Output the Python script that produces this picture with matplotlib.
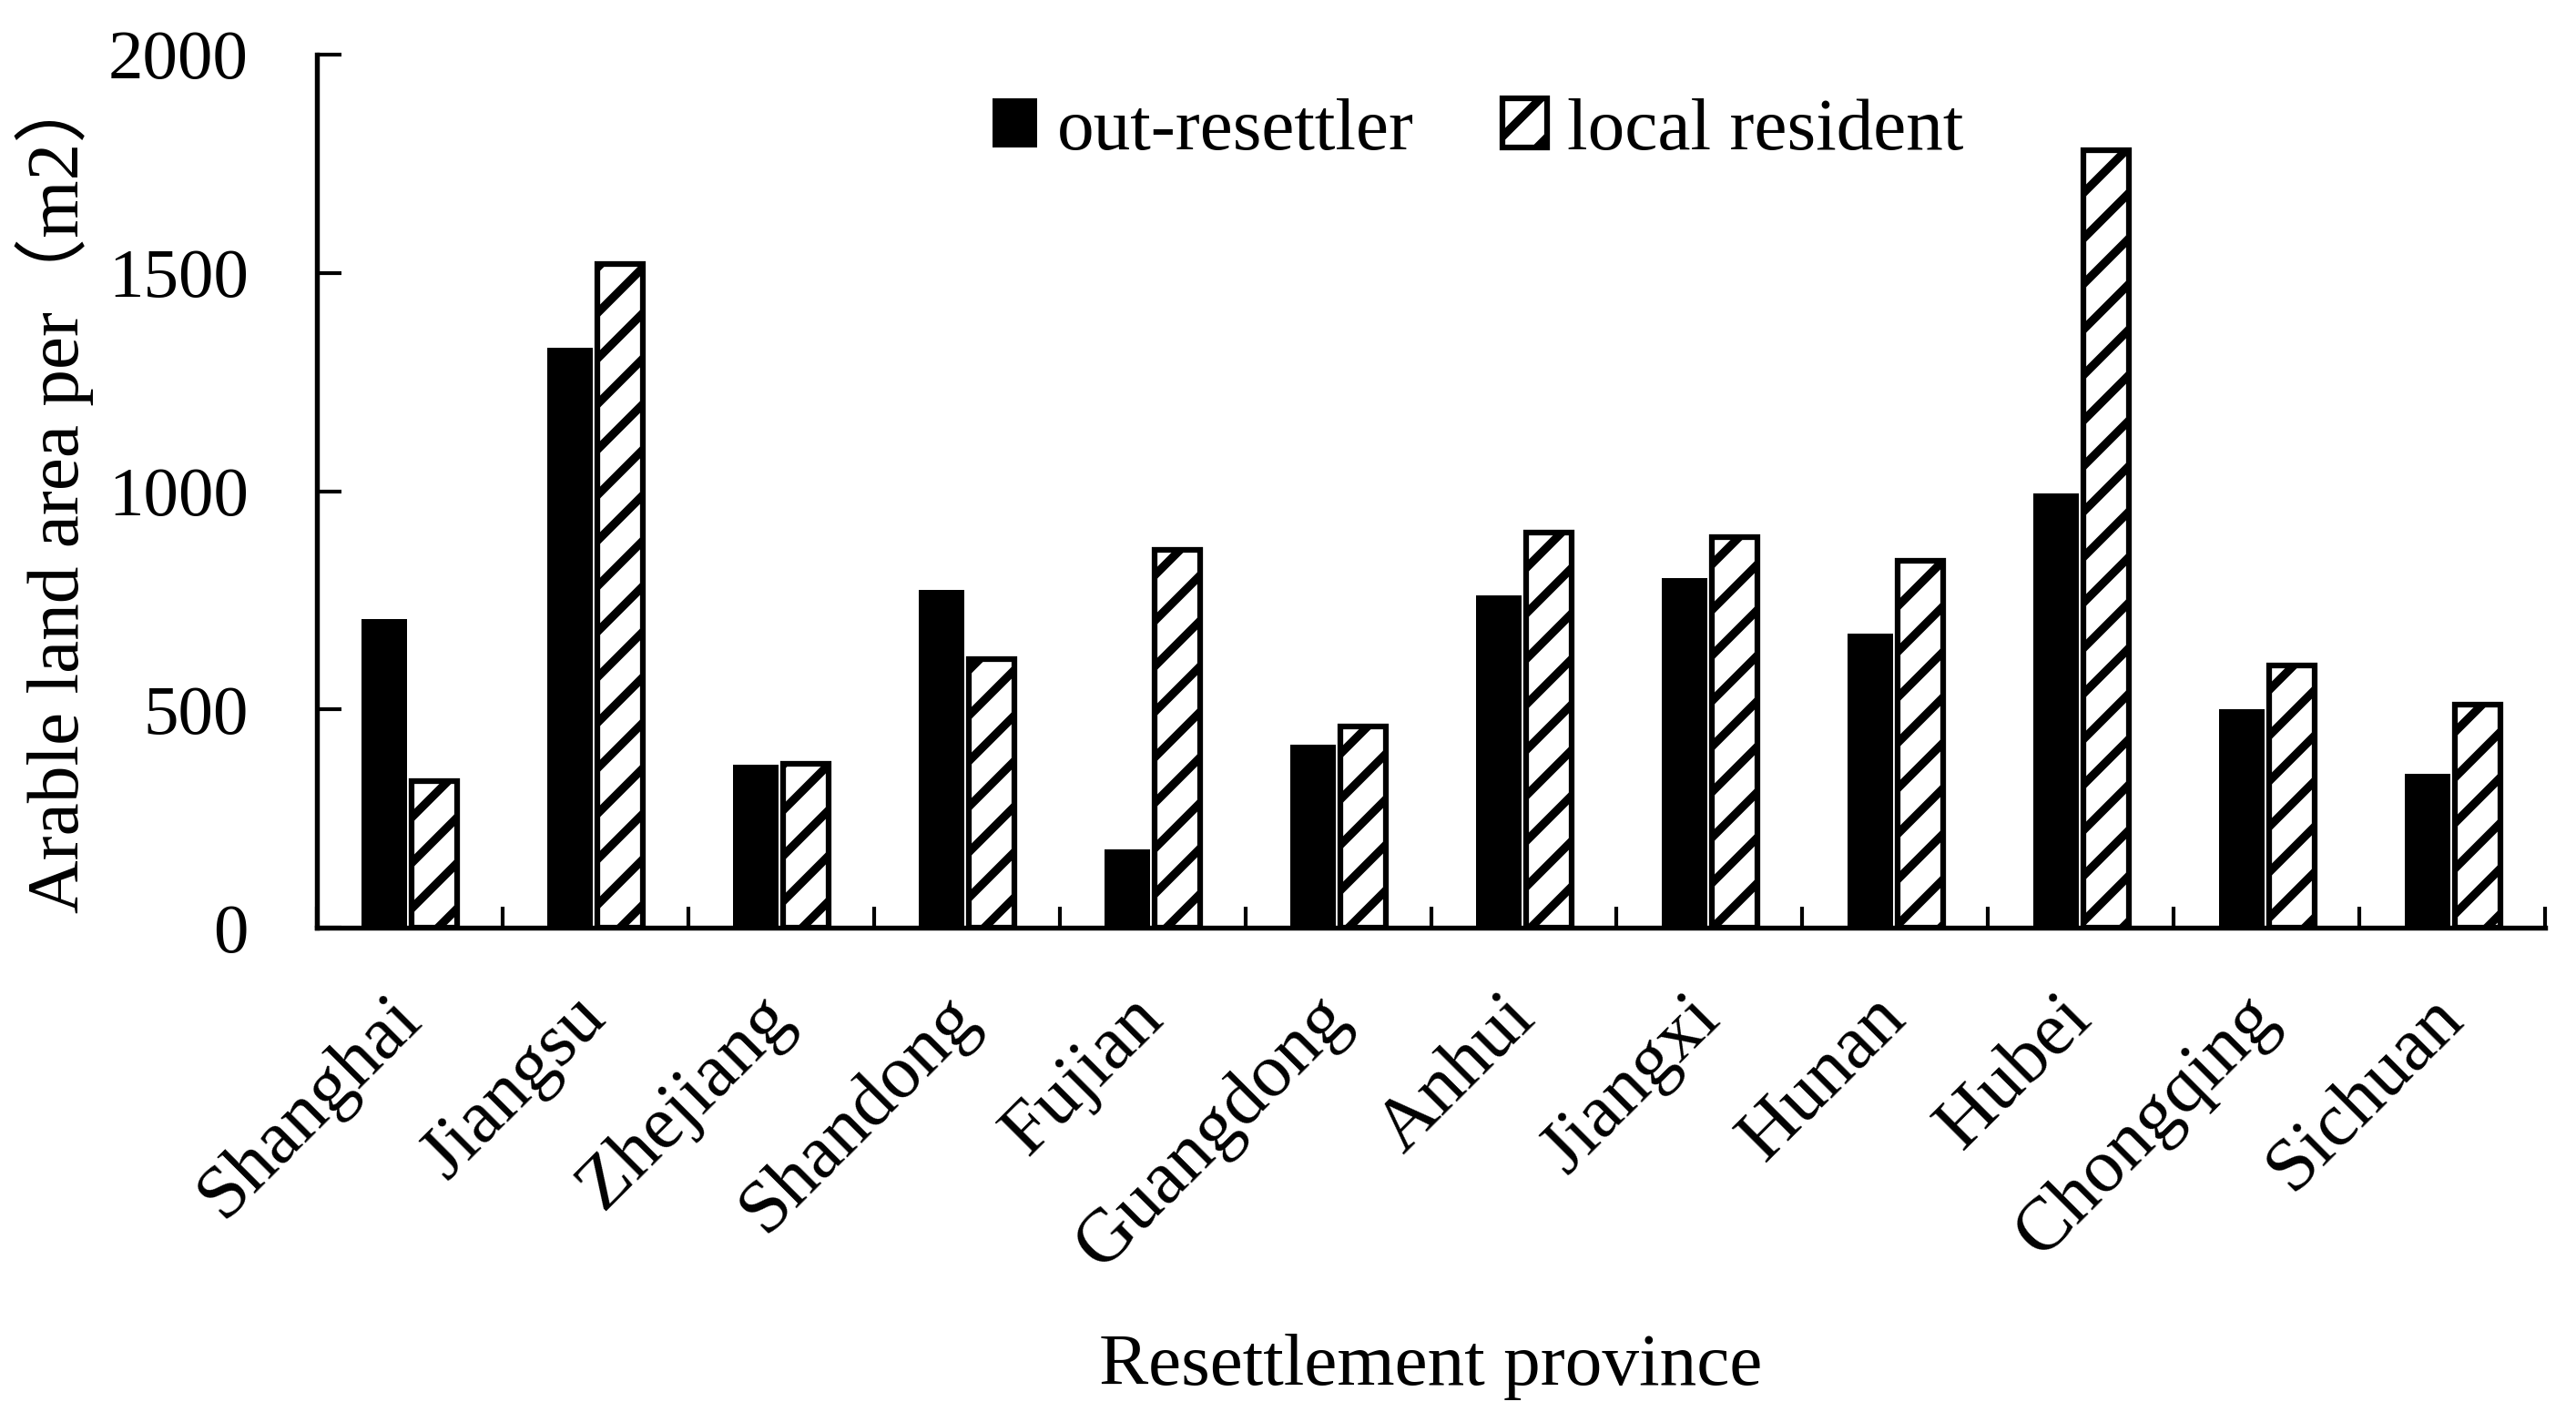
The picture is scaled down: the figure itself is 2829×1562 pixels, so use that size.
import numpy as np
import matplotlib
matplotlib.use("Agg")
import matplotlib.pyplot as plt

# datos
provincias = ['Shanghai', 'Jiangsu', 'Zhejiang', 'Shandong', 'Fujian', 'Guangdong',
              'Anhui', 'Jiangxi', 'Hunan', 'Hubei', 'Chongqing', 'Sichuan']
out_resettler = [707, 1328, 373, 774, 179, 419, 761, 801, 673, 995, 500, 352]
local_resident = [335, 1520, 375, 615, 865, 460, 905, 895, 840, 1780, 600, 512]
y_ticks = [0, 500, 1000, 1500, 2000]

plt.rcParams['font.family'] = ['Liberation Serif', 'Noto Sans CJK SC', 'DejaVu Sans']
plt.rcParams['hatch.linewidth'] = 2.2
plt.rcParams['hatch.color'] = 'black'

fs = 18.5

# dpi 300 para que el rayado salga con la separacion del original
fig = plt.figure(figsize=(2829 / 300, 1562 / 300), dpi=300)
ax = fig.add_axes([0.123, 0.3476, 0.865, 0.614])

x = np.arange(len(provincias)) + 0.5
ancho = 0.245
ax.bar(x - 0.135, out_resettler, ancho, color='black', edgecolor='black',
       linewidth=0, label='out-resettler')
ax.bar(x + 0.135, local_resident, ancho, color='white', edgecolor='black',
       linewidth=1.5, hatch='//', label='local resident')

ax.set_xlim(0, len(provincias))
ax.set_ylim(0, 2000)

for lado in ['top', 'right']:
    ax.spines[lado].set_visible(False)
for lado in ['left', 'bottom']:
    ax.spines[lado].set_linewidth(1.3)

ax.set_yticks(y_ticks)
ax.set_yticklabels([str(v) for v in y_ticks], fontsize=fs)
ax.tick_params(axis='y', direction='in', length=6.5, width=1.0, pad=18)

# etiquetas en el centro de cada grupo, marcas en los limites
ax.set_xticks(x)
ax.set_xticklabels(provincias, fontsize=fs + 1.5, rotation=45, ha='right',
                   va='center', rotation_mode='anchor')
ax.tick_params(axis='x', which='major', length=0, pad=21)
ax.set_xticks(np.arange(len(provincias) + 1), minor=True)
ax.tick_params(axis='x', which='minor', direction='in', length=5.5, width=1.0)

ax.set_xlabel('Resettlement province', fontsize=fs + 1)
ax.xaxis.set_label_coords(0.5, -0.465)
ax.set_ylabel('Arable land area per（m2）', fontsize=fs + 1)
ax.yaxis.set_label_coords(-0.100, 0.5)

ax.legend(loc='center', bbox_to_anchor=(0.521, 0.912), ncol=2, frameon=False,
          fontsize=fs + 1, handlelength=0.6, handleheight=0.65,
          handletextpad=0.27, columnspacing=1.2)

fig.savefig('out.png', dpi=300)
